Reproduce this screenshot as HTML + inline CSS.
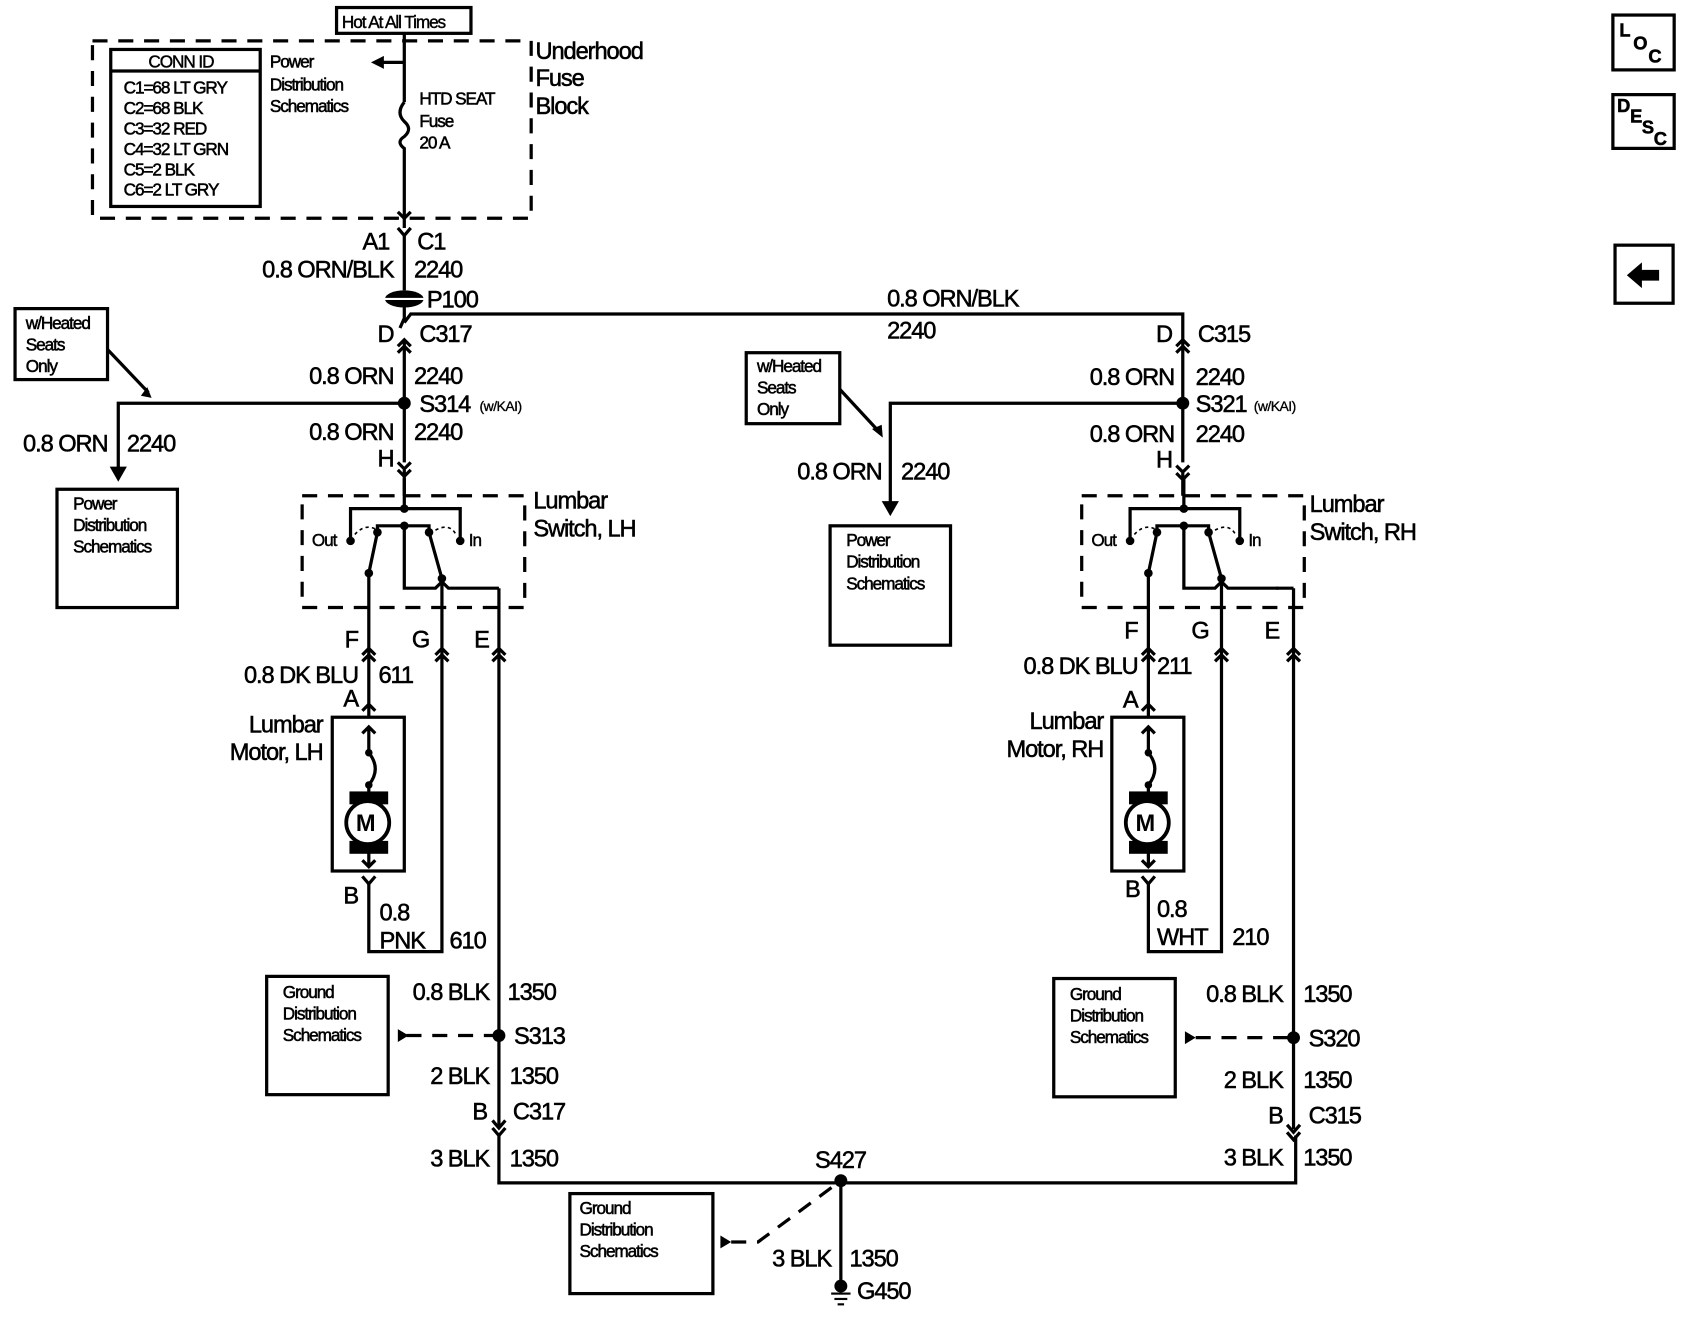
<!DOCTYPE html>
<html><head><meta charset="utf-8"><style>
html,body{margin:0;padding:0;background:#fff;}
svg{display:block;}
text{font-family:"Liberation Sans",Arial,sans-serif;fill:#000;stroke:#000;stroke-width:0.5px;}
.l{font-size:22px;letter-spacing:-1px;}
.s{font-size:16px;letter-spacing:-1px;stroke-width:0.4px;}
.xs{font-size:13px;letter-spacing:-0.5px;stroke-width:0.3px;}
</style></head><body>
<svg width="1686" height="1328" viewBox="0 0 1568 1235" preserveAspectRatio="none" xmlns="http://www.w3.org/2000/svg">
<defs>
<g id="asm" fill="none" stroke="#000" stroke-width="3">
  <rect x="281" y="461" width="207" height="104" stroke-dasharray="14,10"/>
  <path d="M376 445 V473 M326 503 V473 H428 V503"/>
  <path d="M351 495 V489 H399 V495"/>
  <path d="M376 489 V547 H405 l6 -6 l6 6 H464"/>
  <path d="M330 497 Q340 486 351 493 M405 493 Q418 486 424 497" stroke-width="1.5" stroke-dasharray="3,3"/>
  <path d="M343 533 L351 495 M411 538 L399 495"/>
  <path d="M343 533 V667 M411 538 V885 H343 V822"/>
  <path d="M337 609 l6 -6 l6 6 M337 615 l6 -6 l6 6 M405 609 l6 -6 l6 6 M405 615 l6 -6 l6 6"/>
  <path d="M337 661 l6 -6 l6 6"/>
  <rect x="309" y="667" width="67" height="143"/>
  <path d="M343 676 V700 M337 682 l6 -6 l6 6"/>
  <path d="M343 700 Q355 715 343 730 V740"/>
  <path d="M343 790 V806 M337 800 l6 6 l6 -6"/>
  <path d="M337 815 l6 7 l6 -7"/>
  <g fill="#000" stroke="none">
    <rect x="325" y="736" width="36" height="12"/>
    <rect x="325" y="782" width="36" height="12"/>
    <circle cx="376" cy="473" r="4"/><circle cx="326" cy="503" r="4"/><circle cx="428" cy="503" r="4"/>
    <circle cx="376" cy="489" r="4"/><circle cx="351" cy="495" r="4"/><circle cx="399" cy="495" r="4"/>
    <circle cx="343" cy="533" r="4"/><circle cx="411" cy="538" r="4"/>
    <circle cx="343" cy="700" r="3.5"/><circle cx="343" cy="730" r="3.5"/>
  </g>
  <circle cx="342" cy="765" r="20" fill="#fff" stroke-width="3.5"/>
  <text x="331" y="773" style="font-size:22px;font-weight:bold;stroke:none;fill:#000">M</text>
  <text x="290" y="508" class="s">Out</text>
  <text x="436" y="508" class="s">In</text>
</g>
</defs>

<g fill="none" stroke="#000" stroke-width="3">
  <rect x="313" y="7" width="125" height="24"/>
  <rect x="86" y="38" width="408" height="165" stroke-dasharray="14,10"/>
  <rect x="103" y="46" width="139" height="146"/>
  <path d="M103 66 H242"/>
  <path d="M376 31 V95 M376 58 H352"/>
  <path d="M376 95 Q368 105 376 113 Q384 120 376 127 Q368 132 376 138 V212"/>
  <path d="M370 197 l6 6 l6 -6 M370 212 l6 7 l6 -7"/>
  <path d="M376 219 V270 M376 286 V296 L372 305 M376 300 L382 292 H1100 V318"/>
  <path d="M370 322 l6 -6 l6 6 M370 328 l6 -6 l6 6 M376 316 V430"/>
  <path d="M370 430 l6 6 l6 -6 M370 437 l6 6 l6 -6 M376 437 V461"/>
  <path d="M376 375 H110 V440"/>
  <rect x="14" y="287" width="86" height="66"/>
  <path d="M100 325 L138 365"/>
  <rect x="53" y="455" width="112" height="110"/>
  <path d="M1094 322 l6 -6 l6 6 M1094 328 l6 -6 l6 6 M1100 316 V430"/>
  <path d="M1094 433 l6 6 l6 -6 M1094 440 l6 6 l6 -6 M1100 440 V461"/>
  <path d="M1100 375 H828 V472"/>
  <rect x="694" y="328" width="87" height="66"/>
  <path d="M781 362 L818 402"/>
  <rect x="772" y="489" width="112" height="111"/>
  <path d="M464 547 V1048 M458 609 l6 -6 l6 6 M458 615 l6 -6 l6 6"/>
  <path d="M458 1042 l6 7 l6 -7 M458 1049 l6 7 l6 -7 M464 1056 V1100 H1205 V1056"/>
  <path d="M1197 609 l6 -6 l6 6 M1197 615 l6 -6 l6 6 M1203 547 V1050"/>
  <path d="M1197 1046 l6 7 l6 -7 M1197 1053 l6 7 l6 -7"/>
  <path d="M1187 547 H1203"/>
  <rect x="248" y="908" width="113" height="110"/>
  <rect x="980" y="910" width="113" height="110"/>
  <rect x="530" y="1110" width="133" height="93"/>
  <path d="M378 963 H464 M1112 965 H1203 M680 1155 H705 L782 1098" stroke-dasharray="14,10"/>
  <path d="M782 1098 V1198"/>
  <rect x="1500" y="14" width="57" height="51"/>
  <rect x="1500" y="88" width="57" height="50"/>
  <rect x="1502" y="228" width="54" height="54"/>
</g>
<g fill="#000">
  <path d="M345 58 l12 -6 v12 z"/>
  <ellipse cx="376" cy="278" rx="18" ry="8"/>
  <path d="M358 278 H394" stroke="#fff" stroke-width="2"/>
  <path d="M131 368 l10 2 l-4 -10 z"/>
  <path d="M102 434 h16 l-8 14 z"/>
  <path d="M811 399 l10 8 l-1 -12 z"/>
  <path d="M820 466 h16 l-8 14 z"/>
  <circle cx="376" cy="375" r="6"/><circle cx="1100" cy="375" r="6"/>
  <circle cx="464" cy="963" r="6"/><circle cx="1203" cy="965" r="6"/>
  <circle cx="782" cy="1098" r="6"/>
  <path d="M370 957 v12 l10 -6 z"/><path d="M1102 959 v12 l10 -6 z"/><path d="M670 1149 v12 l10 -6 z"/>
  <circle cx="782" cy="1196" r="6"/>
  <rect x="773" y="1202" width="18" height="2"/><rect x="776" y="1207" width="12" height="2"/><rect x="779" y="1212" width="6" height="2"/>
  <path d="M1513 256 l14 -12 v7 h16 v10 h-16 v7 z"/>
</g>
<use href="#asm"/>
<use href="#asm" transform="translate(725,0)"/>

<text x="318" y="26" class="s">Hot At All Times</text>
<text x="138" y="63" class="s">CONN ID</text>
<g class="s"><text x="115" y="87">C1=68 LT GRY</text><text x="115" y="106">C2=68 BLK</text><text x="115" y="125">C3=32 RED</text><text x="115" y="144">C4=32 LT GRN</text><text x="115" y="163">C5=2 BLK</text><text x="115" y="182">C6=2 LT GRY</text></g>
<g class="s"><text x="251" y="63">Power</text><text x="251" y="84">Distribution</text><text x="251" y="104">Schematics</text>
<text x="390" y="97">HTD SEAT</text><text x="390" y="118">Fuse</text><text x="390" y="138">20 A</text></g>
<g class="l"><text x="498" y="55">Underhood</text><text x="498" y="80">Fuse</text><text x="498" y="106">Block</text></g>
<g class="l">
<text x="362" y="232" text-anchor="end">A1</text><text x="388" y="232">C1</text>
<text x="366" y="258" text-anchor="end">0.8 ORN/BLK</text><text x="385" y="258">2240</text>
<text x="397" y="286">P100</text>
<text x="366" y="318" text-anchor="end">D</text><text x="390" y="318">C317</text>
<text x="825" y="285">0.8 ORN/BLK</text><text x="825" y="315">2240</text>
<text x="366" y="357" text-anchor="end">0.8 ORN</text><text x="385" y="357">2240</text>
<text x="390" y="383">S314</text>
<text x="366" y="409" text-anchor="end">0.8 ORN</text><text x="385" y="409">2240</text>
<text x="366" y="434" text-anchor="end">H</text>
<text x="100" y="420" text-anchor="end">0.8 ORN</text><text x="118" y="420">2240</text>
<text x="496" y="473">Lumbar</text><text x="496" y="499">Switch, LH</text>
<text x="333" y="602" text-anchor="end">F</text><text x="383" y="602">G</text><text x="441" y="602">E</text>
<text x="333" y="635" text-anchor="end">0.8 DK BLU</text><text x="352" y="635">611</text>
<text x="333" y="657" text-anchor="end">A</text>
<text x="300" y="681" text-anchor="end">Lumbar</text><text x="300" y="707" text-anchor="end">Motor, LH</text>
<text x="333" y="840" text-anchor="end">B</text>
<text x="353" y="856">0.8</text><text x="353" y="882">PNK</text><text x="418" y="882">610</text>
<text x="455" y="930" text-anchor="end">0.8 BLK</text><text x="472" y="930">1350</text>
<text x="478" y="971">S313</text>
<text x="455" y="1008" text-anchor="end">2 BLK</text><text x="474" y="1008">1350</text>
<text x="453" y="1041" text-anchor="end">B</text><text x="477" y="1041">C317</text>
<text x="455" y="1085" text-anchor="end">3 BLK</text><text x="474" y="1085">1350</text>
<text x="758" y="1086">S427</text>
<text x="773" y="1178" text-anchor="end">3 BLK</text><text x="790" y="1178">1350</text>
<text x="797" y="1208">G450</text>
<text x="1090" y="318" text-anchor="end">D</text><text x="1114" y="318">C315</text>
<text x="1092" y="358" text-anchor="end">0.8 ORN</text><text x="1112" y="358">2240</text>
<text x="1112" y="383">S321</text>
<text x="1092" y="411" text-anchor="end">0.8 ORN</text><text x="1112" y="411">2240</text>
<text x="1090" y="435" text-anchor="end">H</text>
<text x="820" y="446" text-anchor="end">0.8 ORN</text><text x="838" y="446">2240</text>
<text x="1218" y="476">Lumbar</text><text x="1218" y="502">Switch, RH</text>
<text x="1058" y="594" text-anchor="end">F</text><text x="1108" y="594">G</text><text x="1176" y="594">E</text>
<text x="1058" y="627" text-anchor="end">0.8 DK BLU</text><text x="1076" y="627">211</text>
<text x="1058" y="658" text-anchor="end">A</text>
<text x="1026" y="678" text-anchor="end">Lumbar</text><text x="1026" y="704" text-anchor="end">Motor, RH</text>
<text x="1060" y="834" text-anchor="end">B</text>
<text x="1076" y="853">0.8</text><text x="1076" y="879">WHT</text><text x="1146" y="879">210</text>
<text x="1193" y="932" text-anchor="end">0.8 BLK</text><text x="1212" y="932">1350</text>
<text x="1217" y="973">S320</text>
<text x="1193" y="1012" text-anchor="end">2 BLK</text><text x="1212" y="1012">1350</text>
<text x="1193" y="1045" text-anchor="end">B</text><text x="1217" y="1045">C315</text>
<text x="1193" y="1084" text-anchor="end">3 BLK</text><text x="1212" y="1084">1350</text>
</g>
<text x="446" y="382" class="xs">(w/KAI)</text>
<text x="1166" y="382" class="xs">(w/KAI)</text>
<g class="s">
<text x="24" y="306">w/Heated</text><text x="24" y="326">Seats</text><text x="24" y="346">Only</text>
<text x="704" y="346">w/Heated</text><text x="704" y="366">Seats</text><text x="704" y="386">Only</text>
<text x="68" y="474">Power</text><text x="68" y="494">Distribution</text><text x="68" y="514">Schematics</text>
<text x="787" y="508">Power</text><text x="787" y="528">Distribution</text><text x="787" y="548">Schematics</text>
<text x="263" y="928">Ground</text><text x="263" y="948">Distribution</text><text x="263" y="968">Schematics</text>
<text x="995" y="930">Ground</text><text x="995" y="950">Distribution</text><text x="995" y="970">Schematics</text>
<text x="539" y="1129">Ground</text><text x="539" y="1149">Distribution</text><text x="539" y="1169">Schematics</text>
</g>
<g style="font-size:17px;font-weight:bold">
<text x="1506" y="34">L</text><text x="1519" y="46">O</text><text x="1533" y="58">C</text>
<text x="1504" y="104">D</text><text x="1516" y="114">E</text><text x="1527" y="124">S</text><text x="1538" y="135">C</text>
</g>
</svg>
</body></html>
